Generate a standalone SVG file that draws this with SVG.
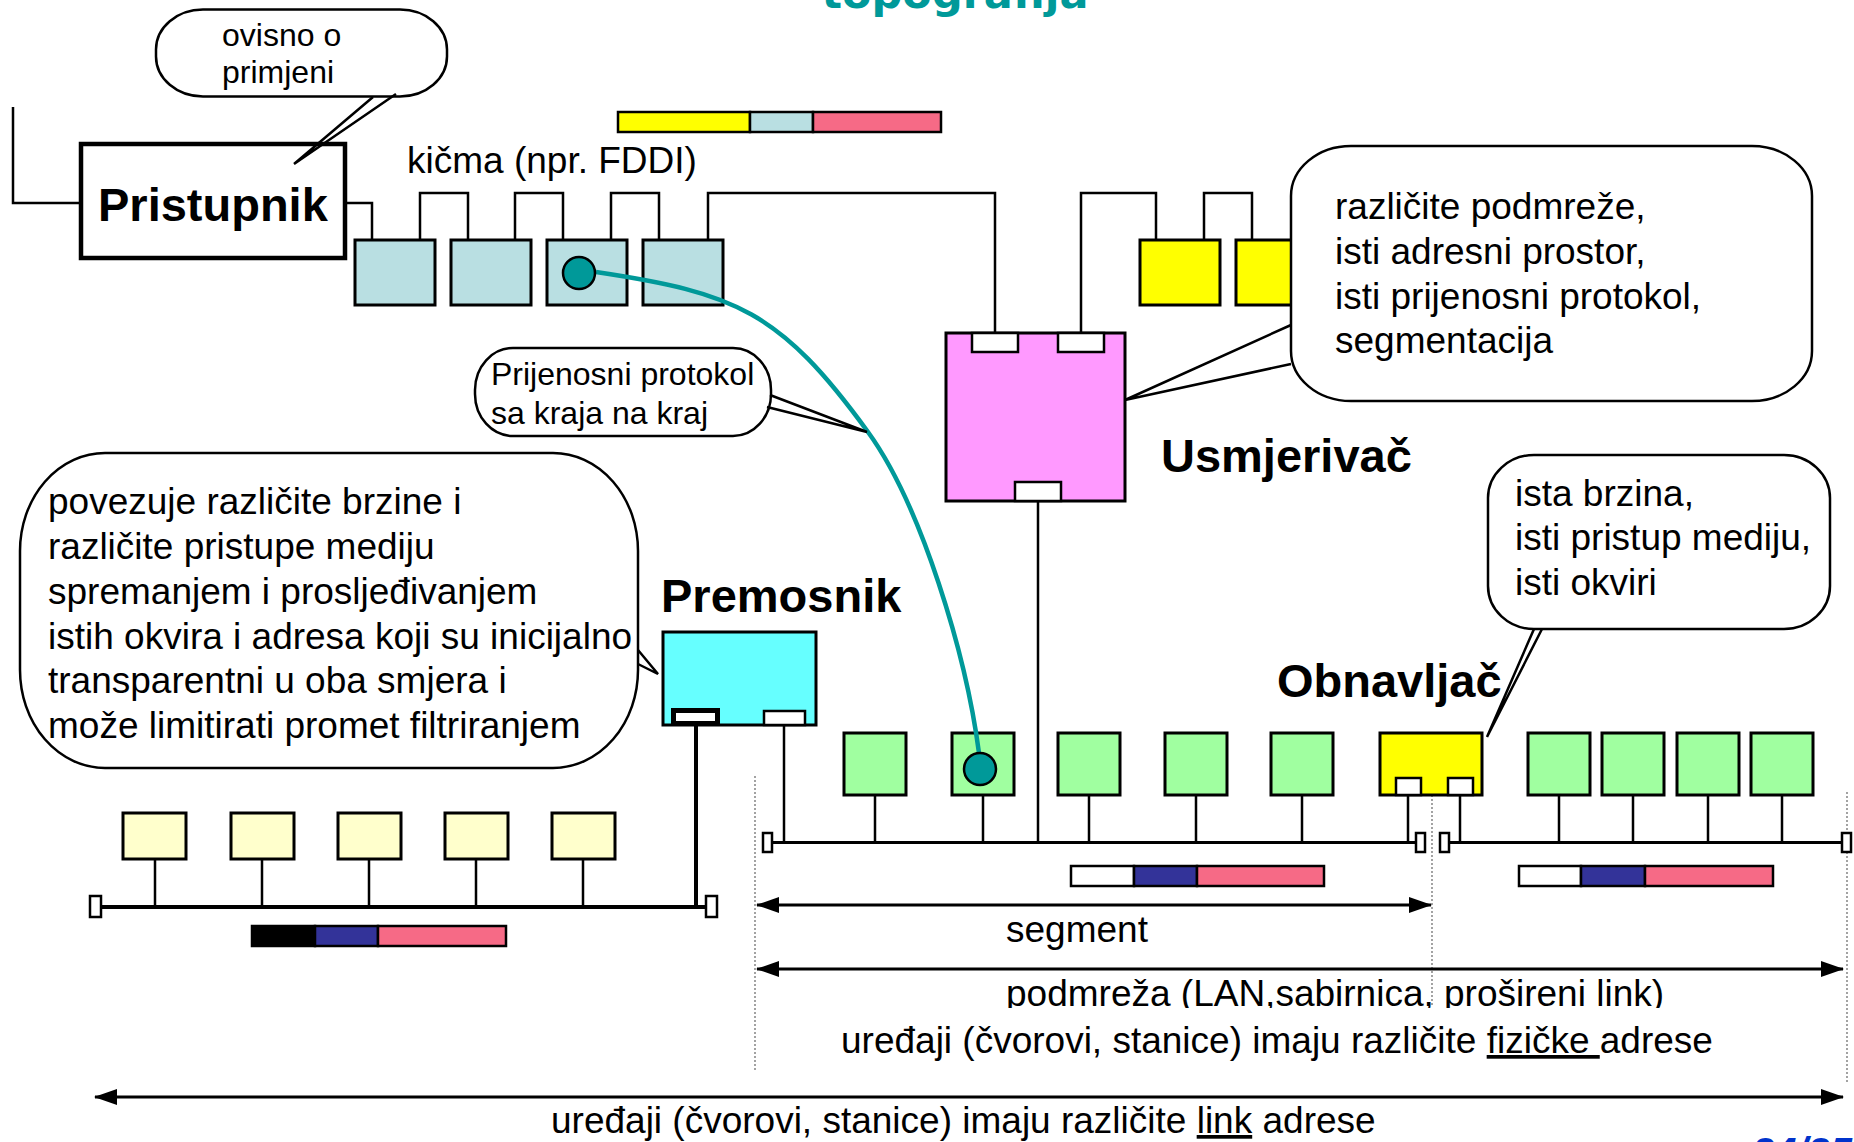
<svg xmlns="http://www.w3.org/2000/svg" width="1854" height="1142" viewBox="0 0 1854 1142">
<style>
.t{font-family:"Liberation Sans",Arial,sans-serif;fill:#000}
.n{font-size:37px}
.s{font-size:32px}
.b{font-size:47px;font-weight:bold}
.ln{stroke:#000;stroke-width:2.5;fill:none}
.bx{stroke:#000;stroke-width:3}
.port{fill:#fff;stroke:#000;stroke-width:2.5}
.term{fill:#fff;stroke:#000;stroke-width:2.5}
.dot{stroke:#8c8c8c;stroke-width:1.6;stroke-dasharray:2 2;fill:none}
.bub{fill:#fff;stroke:#000;stroke-width:2.5}
.arr{stroke:#000;stroke-width:3;fill:none}
.fd{fill:#B9DFE2}
.gr{fill:#A0FFA0}
.cr{fill:#FFFFCC}
.ye{fill:#FFFF00}
.pk{fill:#F66A86}
.bl{fill:#333399}
</style>
<defs>
<marker id="ah" viewBox="0 0 23 16" refX="22" refY="8" markerWidth="23" markerHeight="16" markerUnits="userSpaceOnUse" orient="auto-start-reverse">
<path d="M0 0 L23 8 L0 16 z" fill="#000"/>
</marker>
</defs>
<rect width="1854" height="1142" fill="#fff"/>

<text x="955" y="8" text-anchor="middle" style="font-family:'DejaVu Sans',Verdana,sans-serif;font-weight:bold;font-size:43px;fill:#009999">topografija</text>

<g id="dotted">
<line class="dot" x1="755" y1="776" x2="755" y2="1070"/>
<line class="dot" x1="1432" y1="795" x2="1432" y2="1005"/>
<line class="dot" x1="1847" y1="792" x2="1847" y2="1082"/>
</g>

<g id="connectors">
<path class="ln" d="M13 107 V203 H81"/>
<path class="ln" d="M345 203 H372 V240"/>
<path class="ln" d="M420 240 V193 H468 V240"/>
<path class="ln" d="M515 240 V193 H563 V240"/>
<path class="ln" d="M611 240 V193 H659 V240"/>
<path class="ln" d="M708 240 V193 H995 V333"/>
<path class="ln" d="M1081 333 V193 H1156 V240"/>
<path class="ln" d="M1204 240 V193 H1252 V240"/>
<path class="ln" d="M1038 501 V842"/>
<path class="ln" d="M696 725 V907" style="stroke-width:4"/>
<path class="ln" d="M784 725 V842"/>
<path class="ln" d="M101 907 H706" style="stroke-width:4"/>
<path class="ln" d="M155 859 V907 M262 859 V907 M369 859 V907 M476 859 V907 M583 859 V907"/>
<path class="ln" d="M772 842.5 H1416 M1449 842.5 H1842" style="stroke-width:3"/>
<path class="ln" d="M875 795 V842 M983 795 V842 M1089 795 V842 M1196 795 V842 M1302 795 V842 M1559 795 V842 M1633 795 V842 M1708 795 V842 M1782 795 V842"/>
<path class="ln" d="M1408 795 V842 M1460 795 V842"/>
<line class="arr" x1="757" y1="905" x2="1431" y2="905" marker-start="url(#ah)" marker-end="url(#ah)"/>
<line class="arr" x1="757" y1="969" x2="1843" y2="969" marker-start="url(#ah)" marker-end="url(#ah)"/>
<line class="arr" x1="95" y1="1097" x2="1843" y2="1097" marker-start="url(#ah)" marker-end="url(#ah)"/>
</g>

<g id="frames">
<rect class="ye bx" x="618" y="112" width="132" height="20" style="stroke-width:2.5"/>
<rect class="fd bx" x="750" y="112" width="63" height="20" style="stroke-width:2.5"/>
<rect class="pk bx" x="813" y="112" width="128" height="20" style="stroke-width:2.5"/>
<rect x="252" y="926" width="63" height="20" fill="#000" stroke="#000" stroke-width="2.5"/>
<rect class="bl bx" x="315" y="926" width="63" height="20" style="stroke-width:2.5"/>
<rect class="pk bx" x="378" y="926" width="128" height="20" style="stroke-width:2.5"/>
<rect class="bx" fill="#fff" x="1071" y="866" width="63" height="20" style="stroke-width:2.5"/>
<rect class="bl bx" x="1134" y="866" width="63" height="20" style="stroke-width:2.5"/>
<rect class="pk bx" x="1197" y="866" width="127" height="20" style="stroke-width:2.5"/>
<rect class="bx" fill="#fff" x="1519" y="866" width="62" height="20" style="stroke-width:2.5"/>
<rect class="bl bx" x="1581" y="866" width="64" height="20" style="stroke-width:2.5"/>
<rect class="pk bx" x="1645" y="866" width="128" height="20" style="stroke-width:2.5"/>
</g>

<g id="pristupnik">
<rect x="81" y="144" width="264" height="114" fill="#fff" stroke="#000" stroke-width="4.5"/>
<text class="t b" x="98" y="221">Pristupnik</text>
</g>

<g id="fddi-stations">
<rect class="fd bx" x="355" y="240" width="80" height="65"/>
<rect class="fd bx" x="451" y="240" width="80" height="65"/>
<rect class="fd bx" x="547" y="240" width="80" height="65"/>
<rect class="fd bx" x="643" y="240" width="80" height="65"/>
<text class="t n" x="407" y="173">kičma (npr. FDDI)</text>
</g>

<g id="yellow-stations">
<rect class="ye bx" x="1140" y="240" width="80" height="65"/>
<rect class="ye bx" x="1236" y="240" width="80" height="65"/>
</g>

<g id="usmjerivac">
<rect x="946" y="333" width="179" height="168" fill="#FF99FF" stroke="#000" stroke-width="3"/>
<rect class="port" x="972" y="333" width="46" height="19"/>
<rect class="port" x="1058" y="333" width="46" height="19"/>
<rect class="port" x="1015" y="482" width="46" height="19"/>
<text class="t b" x="1161" y="472">Usmjerivač</text>
</g>

<g id="premosnik">
<rect x="663" y="632" width="153" height="93" fill="#66FFFF" stroke="#000" stroke-width="3"/>
<rect x="673.5" y="710.5" width="44" height="13" fill="#fff" stroke="#000" stroke-width="5"/>
<rect class="port" x="764" y="711" width="41" height="14"/>
<text class="t b" x="661" y="612">Premosnik</text>
</g>

<g id="obnavljac">
<rect class="ye bx" x="1380" y="733" width="102" height="62"/>
<rect class="port" x="1396" y="778" width="25" height="17"/>
<rect class="port" x="1448" y="778" width="25" height="17"/>
<text class="t b" x="1277" y="697">Obnavljač</text>
</g>

<g id="lan-stations">
<rect class="cr bx" x="123" y="813" width="63" height="46"/>
<rect class="cr bx" x="231" y="813" width="63" height="46"/>
<rect class="cr bx" x="338" y="813" width="63" height="46"/>
<rect class="cr bx" x="445" y="813" width="63" height="46"/>
<rect class="cr bx" x="552" y="813" width="63" height="46"/>
<rect class="term" x="90" y="896" width="11" height="21"/>
<rect class="term" x="706" y="896" width="11" height="21"/>
</g>

<g id="segment-stations">
<rect class="gr bx" x="844" y="733" width="62" height="62"/>
<rect class="gr bx" x="952" y="733" width="62" height="62"/>
<rect class="gr bx" x="1058" y="733" width="62" height="62"/>
<rect class="gr bx" x="1165" y="733" width="62" height="62"/>
<rect class="gr bx" x="1271" y="733" width="62" height="62"/>
<rect class="gr bx" x="1528" y="733" width="62" height="62"/>
<rect class="gr bx" x="1602" y="733" width="62" height="62"/>
<rect class="gr bx" x="1677" y="733" width="62" height="62"/>
<rect class="gr bx" x="1751" y="733" width="62" height="62"/>
<rect class="term" x="763" y="833" width="9" height="19"/>
<rect class="term" x="1416" y="833" width="9" height="19"/>
<rect class="term" x="1440" y="833" width="9" height="19"/>
<rect class="term" x="1842" y="833" width="9" height="19"/>
</g>

<g id="end-to-end">
<path d="M596 272 C736 293 780 311 868 432 C921 505 966 654 979 753" fill="none" stroke="#009999" stroke-width="4.5"/>
<circle cx="579" cy="273" r="16" fill="#009999" stroke="#000" stroke-width="2.5"/>
<circle cx="980" cy="769" r="16" fill="#009999" stroke="#000" stroke-width="2.5"/>
</g>

<g id="callout-ovisno">
<rect class="bub" x="156" y="9.5" width="291" height="87" rx="47" ry="40"/>
<path class="ln" d="M373 97 L294 164 M396 94 L294 164"/>
<text class="t s" x="222" y="46">ovisno o</text>
<text class="t s" x="222" y="83">primjeni</text>
</g>

<g id="callout-usmjerivac">
<rect class="bub" x="1291" y="146" width="521" height="255" rx="60" ry="50"/>
<path class="ln" d="M1291 325 L1125 400 L1291 364"/>
<text class="t n" x="1335" y="219">različite podmreže,</text>
<text class="t n" x="1335" y="264">isti adresni prostor,</text>
<text class="t n" x="1335" y="309">isti prijenosni protokol,</text>
<text class="t n" x="1335" y="353">segmentacija</text>
</g>

<g id="callout-protokol">
<rect class="bub" x="475" y="348" width="296" height="88" rx="38" ry="42"/>
<path class="ln" d="M770 395 L867 432 L767 407"/>
<text class="t s" x="491" y="385">Prijenosni protokol</text>
<text class="t s" x="491" y="424">sa kraja na kraj</text>
</g>

<g id="callout-premosnik">
<rect class="bub" x="20" y="453" width="618" height="315" rx="85" ry="98"/>
<path class="ln" d="M638 650 L658 674 L638 664"/>
<text class="t n" x="48" y="514">povezuje različite brzine i</text>
<text class="t n" x="48" y="559">različite pristupe mediju</text>
<text class="t n" x="48" y="604">spremanjem i prosljeđivanjem</text>
<text class="t n" x="48" y="649">istih okvira i adresa koji su inicijalno</text>
<text class="t n" x="48" y="693">transparentni u oba smjera i</text>
<text class="t n" x="48" y="738">može limitirati promet filtriranjem</text>
</g>

<g id="callout-obnavljac">
<rect class="bub" x="1488" y="455" width="342" height="174" rx="46" ry="43"/>
<path class="ln" d="M1534 629 L1487 737 L1542 629"/>
<text class="t n" x="1515" y="506">ista brzina,</text>
<text class="t n" x="1515" y="550">isti pristup mediju,</text>
<text class="t n" x="1515" y="595">isti okviri</text>
</g>

<g id="labels">
<text class="t n" x="1006" y="942">segment</text>
<text class="t n" x="1006" y="1006">podmreža (LAN,sabirnica, prošireni link)</text>
<rect x="835" y="1008" width="890" height="58" fill="#fff"/>
<text class="t n" x="841" y="1053">uređaji (čvorovi, stanice) imaju različite <tspan text-decoration="underline">fizičke </tspan>adrese</text>
<text class="t n" x="551" y="1133">uređaji (čvorovi, stanice) imaju različite <tspan text-decoration="underline">link</tspan> adrese</text>
<text x="1752" y="1166" style="font-family:'Liberation Sans',Arial,sans-serif;font-weight:bold;font-style:italic;font-size:40px;fill:#0033CC">24/25</text>
</g>
</svg>
